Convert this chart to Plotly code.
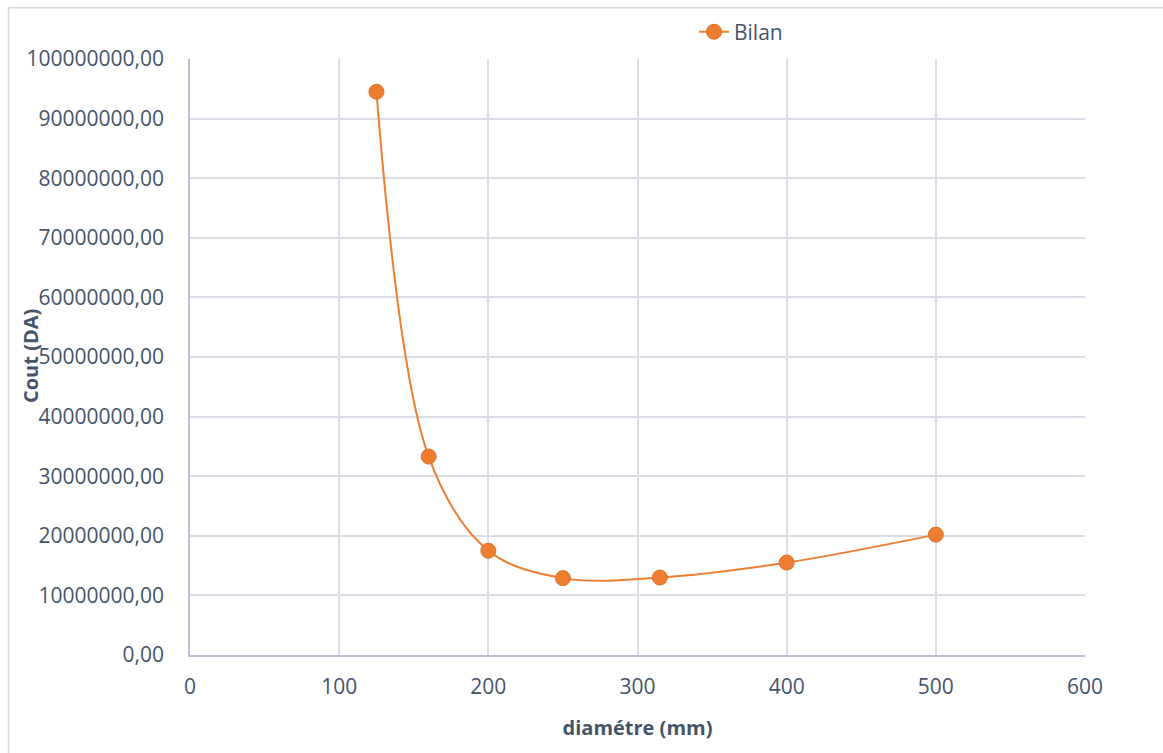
import plotly.graph_objects as go

diametre = [125, 160, 200, 250, 315, 400, 500]
bilan = [94500000, 33300000, 17500000, 12900000, 13000000, 15500000, 20200000]
series_name = "Bilan"
x_title = "diamétre (mm)"
y_title = "Cout (DA)"

TXT = "#44546A"
ORANGE = "#ED7D31"
FONT = "Open Sans"
FS = 21

W, H = 1163, 753
L, R, T, B = 190, 78, 57, 98
pw, ph = W - L - R, H - T - B

def px(xpix):
    return (xpix - L) / pw

def py(ypix):
    return (H - B - ypix) / ph

fig = go.Figure()
fig.add_trace(go.Scatter(
    x=diametre, y=bilan, name=series_name, mode="lines+markers",
    line=dict(color=ORANGE, width=2, shape="spline", smoothing=1.0),
    marker=dict(color=ORANGE, size=15, line=dict(color="#E07020", width=1)),
))

fig.update_layout(
    width=W, height=H,
    margin=dict(l=L, r=R, t=T, b=B),
    paper_bgcolor="white", plot_bgcolor="white",
    font=dict(family=FONT, size=FS, color=TXT),
    separators=", ",
    showlegend=True,
    legend=dict(x=px(694), y=py(30), xanchor="left", yanchor="middle",
                font=dict(family=FONT, size=FS, color=TXT),
                bgcolor="rgba(0,0,0,0)"),
    xaxis=dict(range=[0, 600], dtick=100, showgrid=True, gridcolor="#D9DEE6",
               gridwidth=1.5, showline=True, linecolor="#B8C2D0", linewidth=1.5,
               zeroline=False, ticks="", tickfont=dict(size=FS, color=TXT),
               ticklabelstandoff=12,
               title=dict(text="<b>" + x_title + "</b>", standoff=22,
                          font=dict(size=FS - 1, color=TXT))),
    yaxis=dict(range=[0, 100000000], dtick=10000000, tickformat=".2f",
               showgrid=True, gridcolor="#D9DEE6", gridwidth=1.5,
               showline=True, linecolor="#B8C2D0", linewidth=1.5,
               zeroline=False, ticks="", tickfont=dict(size=FS, color=TXT),
               ticklabelstandoff=20),
    annotations=[
        dict(text="<b>" + y_title + "</b>", xref="paper", yref="paper",
             x=px(30), y=py(355), xanchor="center", yanchor="middle",
             textangle=-90, showarrow=False,
             font=dict(family=FONT, size=FS - 1, color=TXT)),
    ],
    shapes=[
        dict(type="line", xref="paper", yref="paper", x0=px(8.5), x1=px(8.5),
             y0=py(5.5), y1=py(760), line=dict(color="#D9D9D9", width=1.5)),
        dict(type="line", xref="paper", yref="paper", x0=px(8.5), x1=px(1170),
             y0=py(5.5), y1=py(5.5), line=dict(color="#D9D9D9", width=1.5)),
    ],
)

fig.write_html("out.html")
